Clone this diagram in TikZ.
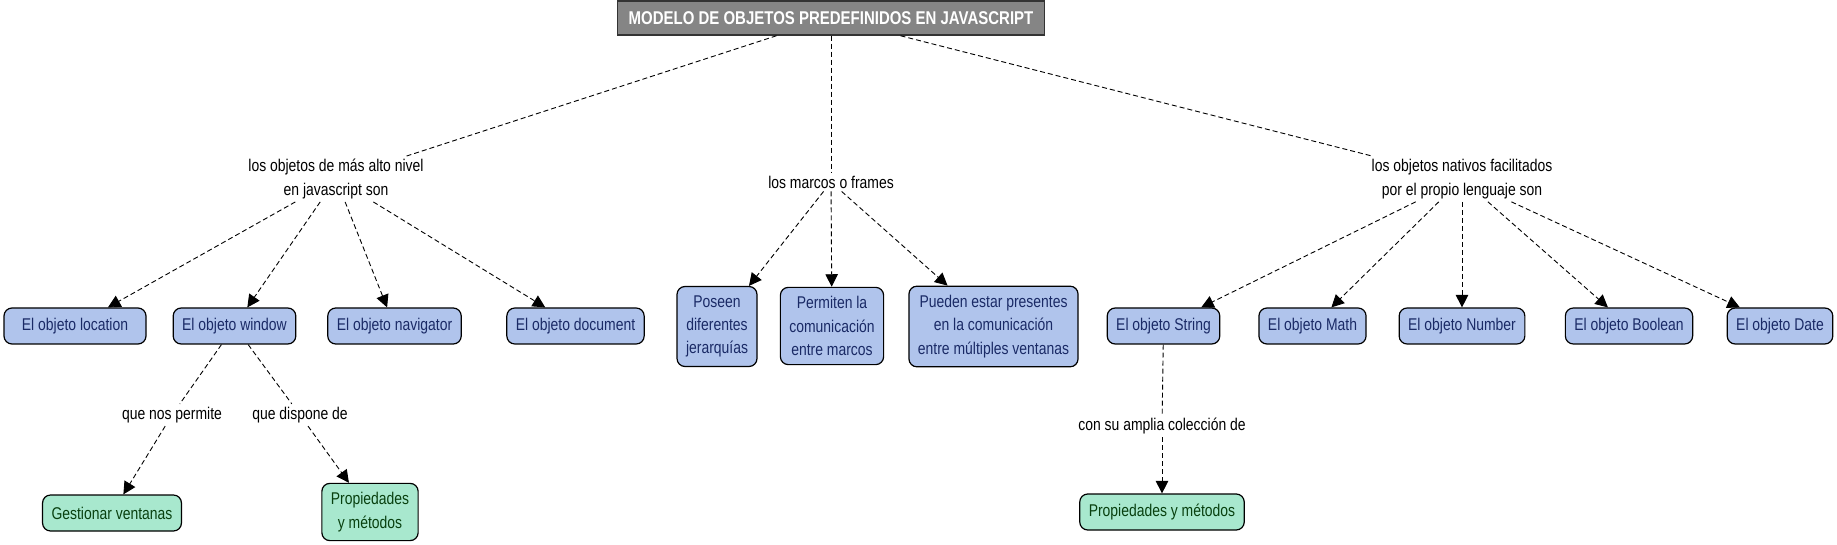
\documentclass[tikz,border=0pt]{standalone}
\usepackage{fontspec}
\setmainfont[FakeStretch=0.82]{Liberation Sans}
\newfontfamily\titlefont[FakeStretch=0.81]{Liberation Sans}
\usetikzlibrary{arrows.meta}
\definecolor{bluefill}{HTML}{B0C4EC}
\definecolor{bluetext}{HTML}{1A2A66}
\definecolor{greenfill}{HTML}{A8E8CE}
\definecolor{greentext}{HTML}{08400F}
\definecolor{titlefill}{HTML}{858585}
\newcommand{\bodyfont}{\fontsize{17}{23.4}\selectfont}
\tikzset{
  concept/.style={draw=black, line width=1.2pt, rounded corners=8pt, align=center,
    font=\bodyfont, inner xsep=9pt, inner ysep=9pt, minimum height=36pt},
  bluebox/.style={concept, fill=bluefill, text=bluetext},
  greenbox/.style={concept, fill=greenfill, text=greentext},
  linkphrase/.style={align=center, font=\bodyfont, text=black, inner sep=3pt},
  titlebox/.style={draw=black!80, line width=1.5pt, fill=titlefill, text=white,
    font=\titlefont\bfseries\fontsize{18.5}{22}\selectfont, minimum width=427pt, minimum height=34pt, inner sep=2pt},
  conn/.style={draw=black, line width=0.9pt, dash pattern=on 5pt off 3pt},
  arr/.style={conn, -{Triangle[length=12.5pt,width=12.5pt]}}
}
\begin{document}
\begin{tikzpicture}[x=1pt,y=-1pt]
\useasboundingbox (0,0) rectangle (1837,545);
\node[titlebox] (title) at (831,18) {MODELO DE OBJETOS PREDEFINIDOS EN JAVASCRIPT};

\node[linkphrase] (l1) at (336,179) {los objetos de más alto nivel\\en javascript son};
\node[linkphrase] (l2) at (831,182) {los marcos o frames};
\node[linkphrase] (l3) at (1462,179) {los objetos nativos facilitados\\por el propio lenguaje son};

\node[bluebox, minimum width=142pt] (location) at (75,326) {El objeto location};
\node[bluebox] (window) at (234.5,326) {El objeto window};
\node[bluebox] (navigator) at (394.5,326) {El objeto navigator};
\node[bluebox] (document) at (575.5,326) {El objeto document};
\node[bluebox] (poseen) at (717,326.5) {Poseen\\diferentes\\jerarquías};
\node[bluebox] (permiten) at (832,326) {Permiten la\\comunicación\\entre marcos};
\node[bluebox] (pueden) at (993.5,326.5) {Pueden estar presentes\\en la comunicación\\entre múltiples ventanas};
\node[bluebox] (string) at (1163.5,326) {El objeto String};
\node[bluebox] (math) at (1312.5,326) {El objeto Math};
\node[bluebox] (number) at (1462,326) {El objeto Number};
\node[bluebox] (boolean) at (1629,326) {El objeto Boolean};
\node[bluebox] (date) at (1780,326) {El objeto Date};

\node[linkphrase] (qnp) at (172,415) {que nos permite};
\node[linkphrase] (qdd) at (300,415) {que dispone de};
\node[linkphrase] (csa) at (1162,426) {con su amplia colección de};

\node[greenbox] (gest) at (112,513) {Gestionar ventanas};
\node[greenbox] (prop1) at (370,512) {Propiedades\\y métodos};
\node[greenbox] (prop2) at (1162,512) {Propiedades y métodos};

\draw[conn] (title) -- (l1);
\draw[conn] (title) -- (l2);
\draw[conn] (title) -- (l3);

\draw[arr] (l1) -- (location);
\draw[arr] (l1) -- (window);
\draw[arr] (l1) -- (navigator);
\draw[arr] (l1) -- (document);

\draw[arr] (l2) -- (poseen);
\draw[arr] (l2) -- (permiten);
\draw[arr] (l2) -- (pueden);

\draw[arr] (l3) -- (string);
\draw[arr] (l3) -- (math);
\draw[arr] (l3) -- (number);
\draw[arr] (l3) -- (boolean);
\draw[arr] (l3) -- (date);

\draw[conn] (window) -- (qnp);
\draw[arr] (qnp) -- (gest);
\draw[conn] (window) -- (qdd);
\draw[arr] (qdd) -- (prop1);
\draw[conn] (string) -- (csa);
\draw[arr] (csa) -- (prop2);
\end{tikzpicture}
\end{document}
